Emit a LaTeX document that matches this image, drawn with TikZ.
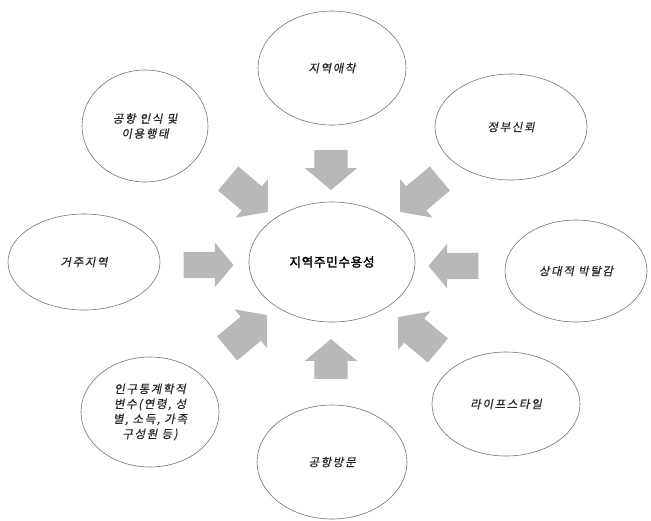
\documentclass[tikz,border=0pt]{standalone}
\usepackage{fontspec}
\setmainfont{Noto Sans CJK KR}
\newfontfamily\krit[FakeSlant=0.2,LetterSpace=14,FakeBold=0.6]{Noto Sans CJK KR}
\newfontfamily\krbold[LetterSpace=6,FakeBold=2]{Noto Sans CJK KR}
\usetikzlibrary{shapes.geometric,shapes.arrows}
\definecolor{rim}{RGB}{125,112,112}
\definecolor{arrowgray}{RGB}{184,184,184}
\definecolor{txt}{RGB}{40,40,40}
\tikzset{
  bubble/.style={ellipse, draw=rim, line width=0.6pt, inner sep=0pt, align=center,
    text=txt, font=\krit\fontsize{11.5}{15}\selectfont},
  blockarrow/.style={single arrow, draw=none, fill=arrowgray, inner xsep=0pt,
    single arrow tip angle=100},
  vert/.style={blockarrow, minimum height=40pt, inner ysep=16.5pt, single arrow head extend=9.5pt},
  horiz/.style={blockarrow, minimum height=50pt, inner ysep=13pt, single arrow head extend=9pt},
  diag/.style={blockarrow, minimum height=52pt, inner ysep=15.5pt, single arrow head extend=9.5pt}
}
\begin{document}
\begin{tikzpicture}[x=1pt,y=1pt]
\useasboundingbox (0,0) rectangle (651,-520);
\fill[white] (0,0) rectangle (651,-520);
% ellipses
\node[bubble, minimum width=166pt, minimum height=120pt] (c) at (332,-262)
  {\krbold\fontsize{12.5}{15}\selectfont\color{black}지역주민수용성};
\node[bubble, minimum width=148pt, minimum height=114pt] (n) at (332,-68) {지역애착};
\node[bubble, minimum width=126pt, minimum height=112pt] (nw) at (145,-126) {공항 인식 및\\이용행태};
\node[bubble, minimum width=152pt, minimum height=106pt] (ne) at (511,-127) {정부신뢰};
\node[bubble, minimum width=152pt, minimum height=96pt] (w) at (84,-262) {거주지역};
\node[bubble, minimum width=142pt, minimum height=102pt] (e) at (576,-271) {상대적 박탈감};
\node[bubble, minimum width=138pt, minimum height=110pt] (sw) at (150,-412) {인구통계학적\\변수(연령, 성\\별, 소득, 가족\\구성원 등)};
\node[bubble, minimum width=148pt, minimum height=104pt] (se) at (506,-404) {라이프스타일};
\node[bubble, minimum width=150pt, minimum height=114pt] (s) at (332,-462) {공항방문};
% block arrows
\node[vert, rotate=-90] (an) at (331,-163) {};
\node[vert, rotate=90] (as) at (331,-366) {};
\node[horiz, rotate=0] (aw) at (203,-265) {};
\node[horiz, rotate=180] (ae) at (459,-266) {};
\node[diag, rotate=-40] (anw) at (243,-191) {};
\node[diag, rotate=-140] (ane) at (425,-191) {};
\node[diag, rotate=40] (asw) at (242,-336) {};
\node[diag, rotate=140] (ase) at (423,-338) {};
\end{tikzpicture}
\end{document}
